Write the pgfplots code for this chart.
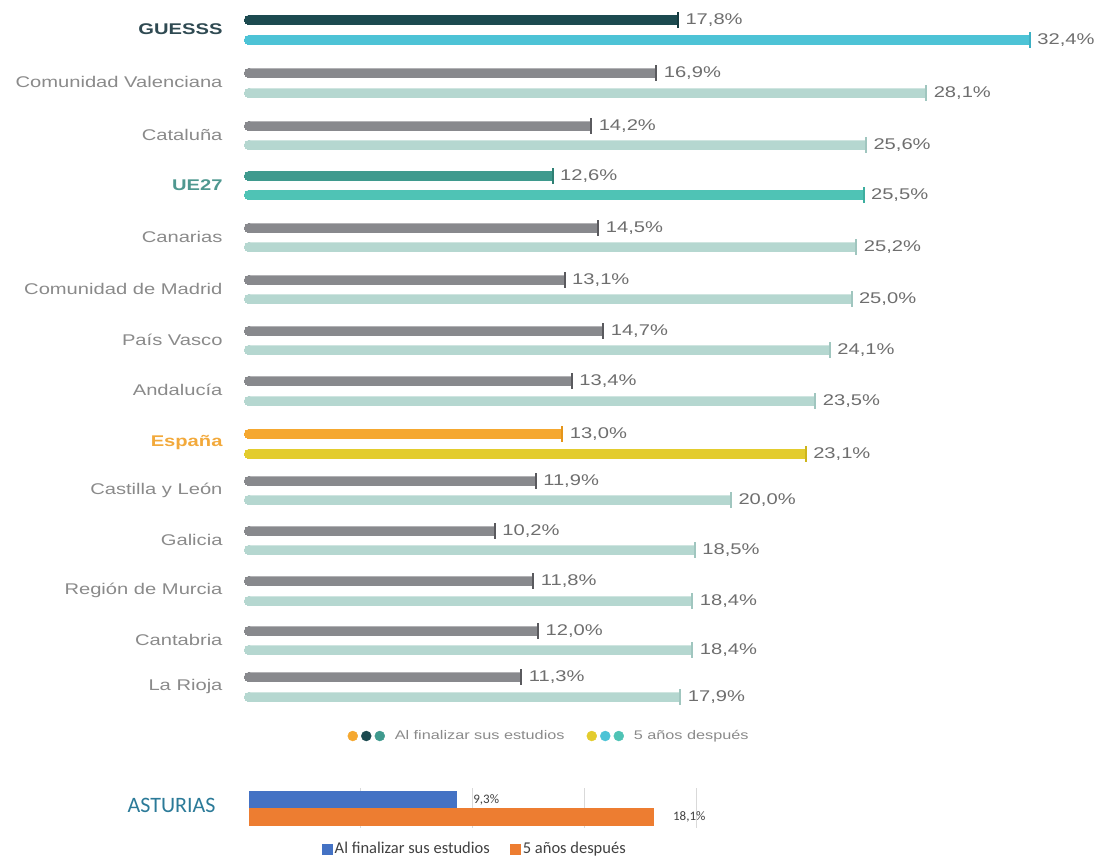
\documentclass[border=0pt]{standalone}
\usepackage{pgfplots}
\usepackage{pgfplotstable}
\pgfplotsset{compat=1.18}
\usepackage{fontspec}
\setmainfont{Liberation Sans}[FakeStretch=1.3]
\newfontfamily\carlito{Carlito}

\definecolor{gbar}{HTML}{88898D}
\definecolor{gcap}{HTML}{5A5A5E}
\definecolor{lbar}{HTML}{B5D7D0}
\definecolor{lcap}{HTML}{A0C6BF}
\definecolor{guessA}{HTML}{1C4A50}
\definecolor{guessAc}{HTML}{143A3F}
\definecolor{guessB}{HTML}{4DC3D6}
\definecolor{guessBc}{HTML}{3DB0C4}
\definecolor{ueA}{HTML}{3F9A8E}
\definecolor{ueAc}{HTML}{2F8074}
\definecolor{ueB}{HTML}{4FC3B5}
\definecolor{ueBc}{HTML}{3DAE9F}
\definecolor{esA}{HTML}{F5A830}
\definecolor{esAc}{HTML}{E5951A}
\definecolor{esB}{HTML}{E3CC2E}
\definecolor{esBc}{HTML}{CDB51C}
\definecolor{labgray}{HTML}{6E6E6E}
\definecolor{catgray}{HTML}{8A8A8A}
\definecolor{asblue}{HTML}{4472C4}
\definecolor{asorange}{HTML}{ED7D31}
\definecolor{astext}{HTML}{2B7A98}
\definecolor{astxt}{HTML}{404040}

% y = picture row of the bar (top = 0), v = percentage
\pgfplotstableread{
y v
73 16.9
126 14.2
228 14.5
280 13.1
331 14.7
381 13.4
481 11.9
531 10.2
581 11.8
631 12.0
677 11.3
}\regA
\pgfplotstableread{
y v
93 28.1
145 25.6
247 25.2
299 25.0
350 24.1
401 23.5
500 20.0
550 18.5
601 18.4
650 18.4
697 17.9
}\regB
\pgfplotstableread{
y v
20 17.8
}\guessAt
\pgfplotstableread{
y v
40 32.4
}\guessBt
\pgfplotstableread{
y v
176 12.6
}\ueAt
\pgfplotstableread{
y v
195 25.5
}\ueBt
\pgfplotstableread{
y v
434 13.0
}\esAt
\pgfplotstableread{
y v
454 23.1
}\esBt

\pgfplotsset{
  hbar/.style={xbar, bar shift=0pt, bar width=9.5pt, draw=none, fill=#1, forget plot,
    point meta=x,
    nodes near coords={\pgfmathprintnumber[fixed,fixed zerofill,precision=1,use comma,assume math mode=true]{\pgfplotspointmeta}\%},
    every node near coord/.append style={anchor=west, xshift=4pt,
      font=\fontsize{15.5}{18}\selectfont, text=labgray}},
  hcap/.style={only marks, mark=|, mark size=8pt, forget plot, color=#1,
    mark options={line width=2pt, draw=#1}},
  hround/.style={only marks, mark=*, mark size=4.75pt, forget plot, color=#1,
    mark options={draw=#1, fill=#1, line width=0pt}},
}
\newcommand\pair[3]{%
  \addplot[hbar=#2] table[x=v,y=y]{#1};
  \addplot[hround=#2] table[x expr=0,y=y]{#1};
  \addplot[hcap=#3] table[x=v,y=y]{#1};
}

\begin{document}
\begin{tikzpicture}
\path[use as bounding box] (0,0) rectangle (1094pt,857pt);

\begin{axis}[
  at={(249pt,137pt)}, anchor=south west,
  scale only axis, width=843.5pt, height=720pt,
  xmin=0, xmax=35, ymin=0, ymax=720, y dir=reverse,
  clip=false, axis line style={draw=none}, major tick length=0pt,
  xtick=\empty,
  ytick={29,82,135,185,237,289,340,390,443,490,540,590,640,686},
  yticklabels={{\textbf{\textcolor[HTML]{2F4A52}{GUESSS}}},Comunidad Valenciana,Cataluña,
    {\textbf{\textcolor[HTML]{4F9890}{UE27}}},Canarias,Comunidad de Madrid,País Vasco,Andalucía,
    {\textbf{\textcolor[HTML]{F2A93B}{España}}},Castilla y León,Galicia,Región de Murcia,Cantabria,La Rioja},
  yticklabel style={anchor=east, xshift=-23pt, font=\fontsize{15.5}{18}\selectfont, text=catgray},
  legend style={at={(axis cs:12.45,736)}, anchor=center, draw=none, fill=none,
    font=\fontsize{12.5}{15}\selectfont, text=catgray,
    /tikz/every even column/.append style={column sep=20pt}},
  legend columns=2, legend cell align=left,
]
\pair{\regA}{gbar}{gcap}
\pair{\regB}{lbar}{lcap}
\pair{\guessAt}{guessA}{guessAc}
\pair{\guessBt}{guessB}{guessBc}
\pair{\ueAt}{ueA}{ueAc}
\pair{\ueBt}{ueB}{ueBc}
\pair{\esAt}{esA}{esAc}
\pair{\esBt}{esB}{esBc}

\addlegendimage{legend image code/.code={
  \fill[esA] (0pt,0pt) circle (5pt);
  \fill[guessA] (13.5pt,0pt) circle (5pt);
  \fill[ueA] (27pt,0pt) circle (5pt);
  \path[draw=none,fill=none] (-5pt,-1pt) rectangle (40pt,1pt);}}
\addlegendentry{Al finalizar sus estudios}
\addlegendimage{legend image code/.code={
  \fill[esB] (0pt,0pt) circle (5pt);
  \fill[guessB] (13.5pt,0pt) circle (5pt);
  \fill[ueB] (27pt,0pt) circle (5pt);
  \path[draw=none,fill=none] (-5pt,-1pt) rectangle (40pt,1pt);}}
\addlegendentry{5 años después}
\end{axis}

% Asturias
\begin{axis}[
  at={(249pt,29pt)}, anchor=south west,
  scale only axis, width=447pt, height=40pt,
  xmin=0, xmax=20, ymin=788, ymax=828, y dir=reverse,
  clip=false, axis line style={draw=none}, major tick length=0pt,
  xtick={5,10,15,20}, xticklabels={}, xmajorgrids,
  grid style={draw=black!15, line width=0.8pt},
  ytick={805}, yticklabels={ASTURIAS},
  yticklabel style={anchor=east, xshift=-30pt, font=\carlito\fontsize{22}{26}\selectfont, text=astext},
  legend style={at={(axis cs:10.1,849)}, anchor=center, draw=none, fill=none,
    font=\carlito\fontsize{16.5}{19}\selectfont, text=astxt,
    /tikz/every even column/.append style={column sep=18pt}},
  legend columns=2,
  nodes near coords={\pgfmathprintnumber[fixed,fixed zerofill,precision=1,use comma,assume math mode=true]{\pgfplotspointmeta}\%},
  point meta=x,
]
\addplot[xbar, bar shift=0pt, bar width=17pt, fill=asblue, draw=none,
  every node near coord/.append style={anchor=west, xshift=13pt, font=\carlito\fontsize{13}{15}\selectfont, text=astxt},
  legend image code/.code={\fill[asblue] (0pt,-5.5pt) rectangle (11pt,5.5pt);}]
  coordinates {(9.3,799.5)};
\addlegendentry{Al finalizar sus estudios}
\addplot[xbar, bar shift=0pt, bar width=18pt, fill=asorange, draw=none,
  every node near coord/.append style={anchor=west, xshift=16pt, font=\carlito\fontsize{13}{15}\selectfont, text=astxt},
  legend image code/.code={\fill[asorange] (0pt,-5.5pt) rectangle (11pt,5.5pt);}]
  coordinates {(18.1,817)};
\addlegendentry{5 años después}
\end{axis}
\end{tikzpicture}
\end{document}
